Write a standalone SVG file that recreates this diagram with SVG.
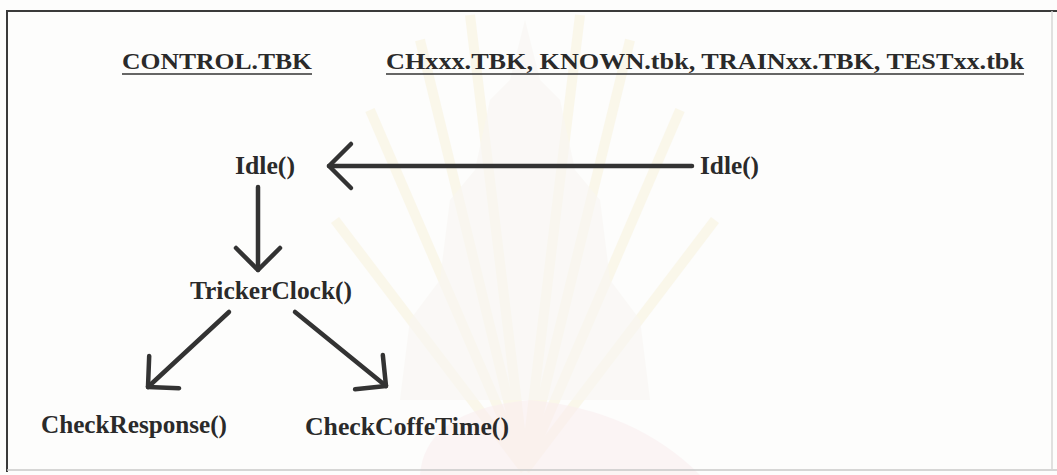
<svg xmlns="http://www.w3.org/2000/svg" width="1057" height="475" viewBox="0 0 1057 475">
  <style>
    .label { font-family: "Liberation Serif", "Times New Roman", serif; font-weight: bold; fill: #2a2a2a; }
    .head { font-size: 23px; }
    .node { font-size: 25px; }
    .under { stroke: #333; stroke-width: 1.6; }
    .conn { fill: none; stroke: #333; stroke-width: 4.5; stroke-linecap: round; marker-end: url(#chevron); }
    .frame { stroke: #3a3a3a; stroke-width: 2; fill: none; }
  </style>
  <defs>
    <marker id="chevron" markerUnits="userSpaceOnUse" markerWidth="50" markerHeight="60" viewBox="-40 -30 50 60" refX="0" refY="0" orient="auto" overflow="visible">
      <path d="M-22,-22 L0,0 L-22,22" fill="none" stroke="#333" stroke-width="4.5" stroke-linecap="round" stroke-linejoin="round"/>
    </marker>
  </defs>

  <rect x="0" y="0" width="1057" height="475" fill="#fdfdfc"/>

  <!-- faint background emblem -->
  <g id="emblem" opacity="0.28">
    <g stroke="#f0dc96" stroke-width="10" fill="none" opacity="0.6">
      <path d="M525,470 L470,15"/>
      <path d="M525,470 L420,40"/>
      <path d="M525,470 L370,110"/>
      <path d="M525,470 L335,220"/>
      <path d="M525,470 L580,15"/>
      <path d="M525,470 L630,40"/>
      <path d="M525,470 L680,110"/>
      <path d="M525,470 L715,220"/>
    </g>
    <path d="M525,20 L540,80 L560,100 L575,170 L600,200 L610,280 L640,320 L650,400 L400,400 L410,320 L440,280 L450,200 L475,170 L490,100 L510,80 Z" fill="#ece4d8" opacity="0.6"/>
    <path d="M420,475 Q425,410 530,400 Q635,410 700,475 Z" fill="#f3c8d2" opacity="0.6"/>
  </g>

  <!-- frame -->
  <line class="frame" x1="6" y1="11" x2="1057" y2="11"/>
  <line class="frame" x1="7" y1="10" x2="7" y2="472"/>
  <line x1="7" y1="470" x2="1057" y2="470" stroke="#c8c8c8" stroke-width="1.5"/>
  <line x1="1052" y1="11" x2="1052" y2="470" stroke="#d6d6d6" stroke-width="1.5"/>

  <!-- column headers -->
  <g id="hdr-control">
    <text class="label head" x="122" y="69" textLength="190" lengthAdjust="spacingAndGlyphs">CONTROL.TBK</text>
    <line class="under" x1="122" y1="74" x2="312" y2="74"/>
  </g>
  <g id="hdr-books">
    <text class="label head" x="386" y="69" textLength="638" lengthAdjust="spacingAndGlyphs">CHxxx.TBK, KNOWN.tbk, TRAINxx.TBK, TESTxx.tbk</text>
    <line class="under" x1="386" y1="74" x2="1024" y2="74"/>
  </g>

  <!-- connectors -->
  <g id="connectors">
    <path class="conn" d="M692,166 L329,166"/>
    <path class="conn" d="M258,187 L258,270"/>
    <path class="conn" d="M229,312 L148,387"/>
    <path class="conn" d="M295,312 L386,386"/>
  </g>

  <!-- nodes -->
  <g id="idle-control">
    <text class="label node" x="235" y="174" textLength="60" lengthAdjust="spacingAndGlyphs">Idle()</text>
  </g>
  <g id="idle-book">
    <text class="label node" x="700" y="174" textLength="59" lengthAdjust="spacingAndGlyphs">Idle()</text>
  </g>
  <g id="tricker-clock">
    <text class="label node" x="190" y="299" textLength="162" lengthAdjust="spacingAndGlyphs">TrickerClock()</text>
  </g>
  <g id="check-response">
    <text class="label node" x="41" y="433" textLength="186" lengthAdjust="spacingAndGlyphs">CheckResponse()</text>
  </g>
  <g id="check-coffe-time">
    <text class="label node" x="305" y="435" textLength="204" lengthAdjust="spacingAndGlyphs">CheckCoffeTime()</text>
  </g>
</svg>
